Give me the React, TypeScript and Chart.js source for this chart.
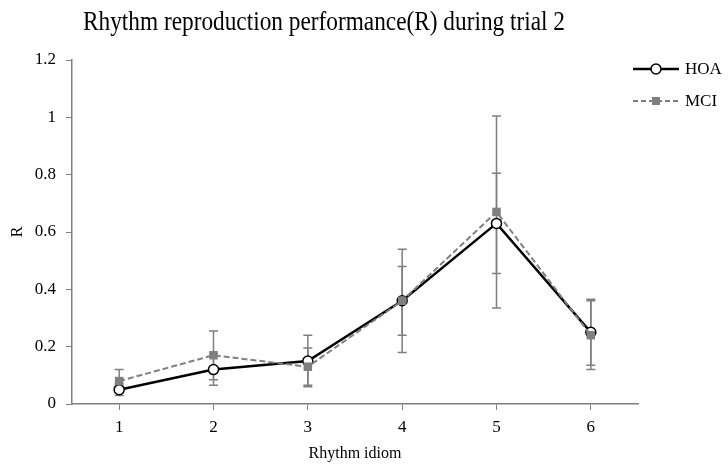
import React, { useEffect, useRef } from "react";
import { Chart, registerables } from "chart.js";

Chart.register(...registerables);

const categories = ["1", "2", "3", "4", "5", "6"];
const hoaValues = [0.05, 0.12, 0.15, 0.36, 0.63, 0.25];
const mciValues = [0.08, 0.17, 0.13, 0.36, 0.67, 0.24];
const hoaErrors = [0.02, 0.055, 0.09, 0.18, 0.175, 0.115];
const mciErrors = [0.04, 0.085, 0.065, 0.12, 0.335, 0.12];
const yTicks = [0, 0.2, 0.4, 0.6, 0.8, 1, 1.2];

const titleText = "Rhythm reproduction performance(R) during trial 2";
const SERIF = "'Liberation Serif', 'Times New Roman', serif";

const errorBarPlugin = {
  id: "errorBars",
  beforeDatasetsDraw(chart: any) {
    const ctx = chart.ctx;
    const xs = chart.scales.x;
    const ys = chart.scales.y;
    const sets = [
      { vals: hoaValues, errs: hoaErrors },
      { vals: mciValues, errs: mciErrors },
    ];
    ctx.save();
    ctx.strokeStyle = "#7f7f7f";
    ctx.lineWidth = 1.5;
    ctx.setLineDash([]);
    sets.forEach((s) => {
      s.vals.forEach((v, i) => {
        const x = xs.getPixelForValue(i);
        const yt = ys.getPixelForValue(v + s.errs[i]);
        const yb = ys.getPixelForValue(Math.max(0, v - s.errs[i]));
        ctx.beginPath();
        ctx.moveTo(x, yt);
        ctx.lineTo(x, yb);
        ctx.moveTo(x - 4.5, yt);
        ctx.lineTo(x + 4.5, yt);
        ctx.moveTo(x - 4.5, yb);
        ctx.lineTo(x + 4.5, yb);
        ctx.stroke();
      });
    });
    ctx.restore();
  },
};

const decorPlugin = {
  id: "decor",
  afterDraw(chart: any) {
    const ctx = chart.ctx;
    ctx.save();
    // Title (condensed serif like the reference)
    ctx.fillStyle = "#000";
    ctx.font = `27px ${SERIF}`;
    ctx.textAlign = "left";
    ctx.textBaseline = "alphabetic";
    const w = ctx.measureText(titleText).width;
    const targetW = 482;
    ctx.save();
    ctx.translate(83, 30);
    ctx.scale(targetW / w, 1);
    ctx.fillText(titleText, 0, 0);
    ctx.restore();

    // Legend
    const lx0 = 633;
    const lx1 = 679;
    const lxm = (lx0 + lx1) / 2;
    // HOA
    let y = 69;
    ctx.strokeStyle = "#000";
    ctx.lineWidth = 2.5;
    ctx.setLineDash([]);
    ctx.beginPath();
    ctx.moveTo(lx0, y);
    ctx.lineTo(lx1, y);
    ctx.stroke();
    ctx.beginPath();
    ctx.arc(lxm, y, 5, 0, Math.PI * 2);
    ctx.fillStyle = "#fff";
    ctx.fill();
    ctx.lineWidth = 1.5;
    ctx.stroke();
    ctx.fillStyle = "#000";
    ctx.font = `17px ${SERIF}`;
    ctx.textBaseline = "middle";
    ctx.fillText("HOA", 685, y + 1);
    // MCI
    y = 101;
    ctx.strokeStyle = "#7f7f7f";
    ctx.lineWidth = 2;
    ctx.setLineDash([5, 3]);
    ctx.beginPath();
    ctx.moveTo(lx0, y);
    ctx.lineTo(lx1, y);
    ctx.stroke();
    ctx.setLineDash([]);
    ctx.fillStyle = "#7f7f7f";
    ctx.fillRect(lxm - 4, y - 4, 8, 8);
    ctx.fillStyle = "#000";
    ctx.fillText("MCI", 685, y + 1);
    ctx.restore();
  },
};

export default function App() {
  const canvasRef = useRef<HTMLCanvasElement | null>(null);

  useEffect(() => {
    const canvas = canvasRef.current;
    if (!canvas) return;
    const chart = new Chart(canvas, {
      type: "line",
      data: {
        labels: categories,
        datasets: [
          {
            label: "HOA",
            data: hoaValues,
            borderColor: "#000",
            borderWidth: 2.5,
            pointStyle: "circle",
            pointRadius: 5,
            pointBorderWidth: 1.5,
            pointBackgroundColor: "#fff",
            pointBorderColor: "#000",
            tension: 0,
            order: 1,
          },
          {
            label: "MCI",
            data: mciValues,
            borderColor: "#7f7f7f",
            borderWidth: 2,
            borderDash: [6, 3],
            pointStyle: "rect",
            pointRadius: 6,
            pointBorderWidth: 0,
            pointBackgroundColor: "#7f7f7f",
            pointBorderColor: "#7f7f7f",
            tension: 0,
            order: 0,
          },
        ],
      },
      options: {
        responsive: false,
        animation: false,
        layout: { padding: { top: 60, right: 90, left: 0, bottom: 0 } },
        plugins: {
          legend: { display: false },
          title: { display: false },
          tooltip: { enabled: false },
        },
        scales: {
          x: {
            type: "category",
            offset: true,
            grid: {
              display: true,
              drawOnChartArea: false,
              drawTicks: true,
              tickLength: 6,
              offset: false,
              color: "#7f7f7f",
            },
            border: { display: true, color: "#7f7f7f", width: 1.5 },
            ticks: {
              color: "#000",
              font: { family: SERIF, size: 17 },
              padding: 7,
              maxRotation: 0,
            },
            title: {
              display: true,
              text: "Rhythm idiom",
              color: "#000",
              font: { family: SERIF, size: 16 },
              padding: { top: 2, bottom: 2 },
            },
            afterFit: (scale: any) => {
              scale.height = 61;
            },
          },
          y: {
            min: 0,
            max: 1.2,
            afterBuildTicks: (scale: any) => {
              scale.ticks = yTicks.map((v) => ({ value: v }));
            },
            grid: {
              display: true,
              drawOnChartArea: false,
              drawTicks: true,
              tickLength: 6,
              color: "#7f7f7f",
            },
            border: { display: true, color: "#7f7f7f", width: 1.5 },
            ticks: {
              color: "#000",
              font: { family: SERIF, size: 17 },
              padding: 10,
              callback: (v: any) => String(Math.round(Number(v) * 10) / 10),
            },
            title: {
              display: true,
              text: "R",
              color: "#000",
              font: { family: SERIF, size: 16 },
              padding: { top: 8, bottom: 0 },
            },
            afterFit: (scale: any) => {
              scale.width = 72;
            },
          },
        },
      },
      plugins: [errorBarPlugin, decorPlugin],
    });
    return () => chart.destroy();
  }, []);

  return (
    <div style={{ position: "fixed", left: 0, top: 0, width: 728, height: 465, background: "#fff" }}>
      <canvas ref={canvasRef} width={728} height={465} style={{ display: "block" }} />
    </div>
  );
}
